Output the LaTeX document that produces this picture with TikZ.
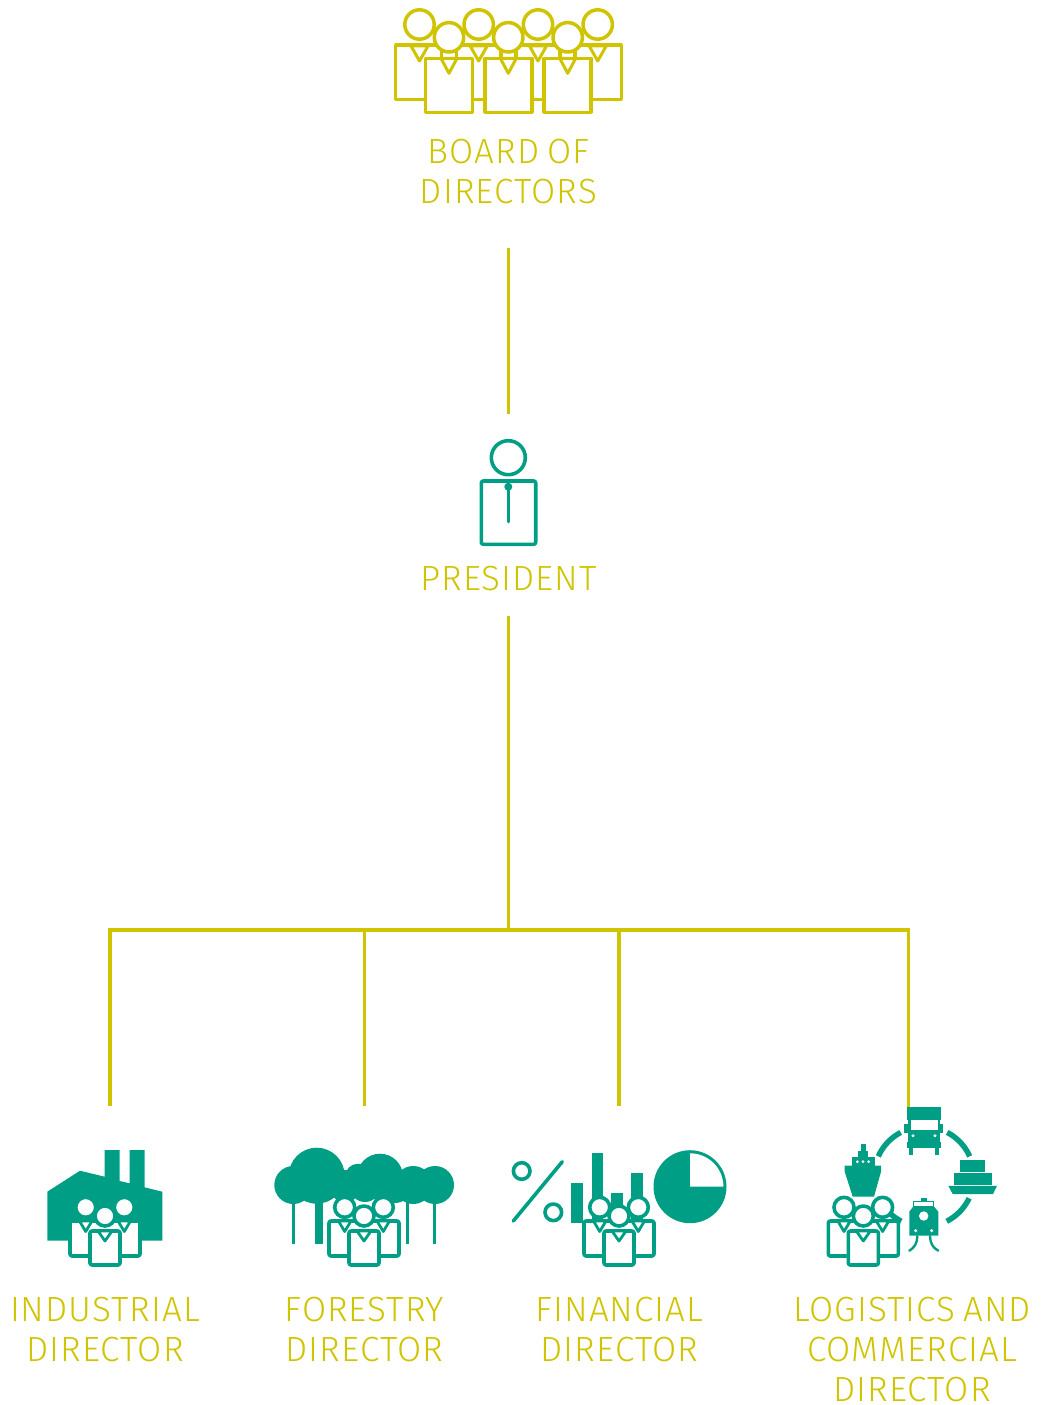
\documentclass[tikz,border=0pt]{standalone}
\usepackage{fontspec}
\setmainfont{Fira Sans}[UprightFont=* Light,LetterSpace=3,WordSpace=0.75]
\definecolor{gold}{HTML}{D0C400}
\definecolor{teal2}{HTML}{009F85}
\tikzset{
  x=1pt,y=-1pt,
  lab/.style={text=gold,font=\fontsize{35}{40}\selectfont,align=center,anchor=north,inner sep=0pt},
  wire/.style={draw=gold,line width=3.5pt},
  gline/.style={draw=gold,line width=3.5pt,line join=round},
  tline/.style={draw=teal2,line width=3.6pt,line join=round},
  people/.pic={
    \draw[tline,fill=white,rounded corners=2pt] (-35,5) rectangle (35,40);
    \draw[tline,fill=white,line width=2.8pt] (-25.5,5) -- (-13,5) -- (-19.3,15.5) -- cycle;
    \draw[tline,fill=white,line width=2.8pt] (13,5) -- (25.5,5) -- (19.3,15.5) -- cycle;
    \draw[tline,fill=white,rounded corners=2pt] (-15,15) rectangle (15,49);
    \draw[tline,fill=white,line width=2.8pt] (-7,15) -- (7,15) -- (0,25) -- cycle;
    \draw[tline,fill=white] (-19.3,-8.7) circle[radius=10pt];
    \draw[tline,fill=white] (19.3,-8.7) circle[radius=10pt];
    \draw[tline,fill=white] (0,0) circle[radius=10pt];
  },
  backp/.pic={
    \draw[gline,line width=3pt] (-8.5,21.5) -- (8.5,21.5) -- (0,36.5) -- cycle;
    \draw[gline,fill=white] (0,0) circle[radius=14.7pt];
  },
  frontp/.pic={
    \draw[gline,fill=white] (-7.5,14) rectangle (7.5,21);
    \draw[gline,fill=white] (-23.5,21) rectangle (23.5,75);
    \draw[gline,line width=3pt,fill=white] (-8,21) -- (8,21) -- (0,36) -- cycle;
    \draw[gline,fill=white] (0,0) circle[radius=14.7pt];
  }
}
\begin{document}
\begin{tikzpicture}
\useasboundingbox (0,0) rectangle (1043,1405);
% connector end points
\coordinate (c1a) at (508.3,248);
\coordinate (c1b) at (508.3,414);
\coordinate (c2a) at (508.5,616);
\coordinate (hub) at (508.5,930);
\coordinate (t1) at (110,930);
\coordinate (t2) at (364.5,930);
\coordinate (t3) at (619,930);
\coordinate (t4) at (908.5,930);
\coordinate (d1) at (110,1106);
\coordinate (d2) at (364.5,1106);
\coordinate (d3) at (619,1106);
\coordinate (d4) at (908.5,1108);
\draw[wire] (c1a) -- (c1b);
\draw[wire] (c2a) -- (hub);
\draw[wire,line join=miter] (d1) -- (t1) -- (t4) -- (d4);
\draw[wire] (t2) -- (d2);
\draw[wire] (t3) -- (d3);

% board
\draw[gline] (395.7,45) rectangle (621.3,99.3);
\foreach \x in {419.5,478.7,538,597.7} \pic at (\x,24.5) {backp};
\foreach \x in {449,508.3,567.7} \pic at (\x,37.3) {frontp};
\node[lab] (board) at (508.5,139) {BOARD OF\\DIRECTORS};

% president
\draw[tline] (508.3,457.7) circle[radius=17pt];
\draw[tline,rounded corners=2pt] (481.3,481) rectangle (535.7,544.3);
\fill[teal2] (508.3,486.7) circle[radius=4pt];
\draw[tline,line cap=round] (508.3,486.7) -- (508.3,521.7);
\node[lab] (president) at (508.5,566) {PRESIDENT};

% factory
\fill[teal2] (47.3,1191.7) -- (80,1170.7) -- (104.7,1176.7) -- (104.7,1150) -- (119.7,1150) -- (119.7,1181) -- (129.7,1183.3) -- (129.7,1150) -- (144.7,1150) -- (144.7,1187.3) -- (162.3,1191.7) -- (162.3,1240.7) -- (47.3,1240.7) -- cycle;
\pic at (105,1216) {people};
\node[lab] (industrial) at (105,1296.5) {INDUSTRIAL\\DIRECTOR};

% forest
\fill[teal2] (293.3,1185) circle[radius=19pt] (316.7,1175.7) circle[radius=28pt] (358,1176.7) circle[radius=13pt] (380,1176.7) circle[radius=23pt] (413.3,1185) circle[radius=19pt] (435,1185) circle[radius=19pt] (345,1186) circle[radius=16pt] (365,1187) circle[radius=15pt] (395,1186) circle[radius=17pt];
\fill[teal2] (305,1178) rectangle (425,1193);
\fill[teal2] (291.6,1195) rectangle (295,1244);
\fill[teal2] (315,1195) rectangle (323,1244);
\fill[teal2] (405.6,1195) rectangle (409,1244);
\fill[teal2] (432.6,1195) rectangle (436,1244);
\pic at (364,1216) {people};
\node[lab] (forestry) at (364.5,1296.5) {FORESTRY\\DIRECTOR};

% finance
\draw[tline] (521.7,1171) circle[radius=8.3pt];
\draw[tline] (553.3,1212.3) circle[radius=8.3pt];
\draw[tline,line cap=round] (562.3,1161.7) -- (513.3,1221);
\fill[teal2] (571,1183.3) rectangle (583.3,1222.7);
\fill[teal2] (591.7,1153.3) rectangle (603.3,1222.7);
\fill[teal2] (611,1193.3) rectangle (623.3,1222.7);
\fill[teal2] (631,1173.3) rectangle (643.3,1222.7);
\fill[teal2] (690,1186.7) circle[radius=36.5pt];
\fill[white] (690,1186.7) -- plot[domain=-90:0,samples=24] ({690+33.4*cos(\x)},{1186.7+33.4*sin(\x)}) -- cycle;
\pic at (619,1216) {people};
\node[lab] (financial) at (619.5,1296.5) {FINANCIAL\\DIRECTOR};

% logistics
\foreach \a/\b in {-62.4/-24,25.5/63,-117.8/-156,117/150}
  \draw[teal2,line width=5.5pt] plot[domain=\a:\b,samples=16] ({924+50*cos(\x)},{1176.7+50*sin(\x)});
% truck
\fill[teal2] (906.7,1106.7) rectangle (941,1120);
\fill[teal2] (908,1120) rectangle (939.5,1148);
\fill[teal2] (904.3,1124.3) rectangle (943.3,1133.3);
\fill[white] (911,1120) rectangle (937.5,1130);
\fill[teal2] (906.7,1141.7) rectangle (941,1148.3);
\fill[teal2] (909.3,1148) rectangle (913.3,1155);
\fill[teal2] (935,1148) rectangle (939,1155);
\fill[white] (913,1135.7) circle[radius=1.7pt] (935,1135.7) circle[radius=1.7pt];
% barge
\fill[teal2] (960,1160) rectangle (985,1172.3);
\fill[teal2] (954,1173.3) rectangle (991.7,1185);
\fill[teal2] (948.3,1185.8) -- (997,1185.8) -- (993,1194) -- (952.7,1194) -- cycle;
% ship
\fill[teal2] (860.7,1144) rectangle (865.7,1152);
\fill[teal2] (858.3,1151) rectangle (868.3,1158);
\fill[teal2] (851.7,1156.7) rectangle (875,1166);
\fill[teal2] (844.7,1165.7) -- (881,1165.7) -- (881,1171.7) -- (874,1196.7) -- (852.7,1196.7) -- (844.7,1171.7) -- cycle;
\fill[white] (857.3,1161.7) circle[radius=1.5pt] (863,1161.7) circle[radius=1.5pt] (868.7,1161.7) circle[radius=1.5pt];
% train
\fill[teal2] (921,1198.3) rectangle (926.7,1202);
\draw[teal2,line width=1pt,fill=white] (913.8,1201.7) rectangle (933.5,1206.5);
\fill[teal2] (913.3,1206.5) -- (934,1206.5) -- (938.3,1211.7) -- (938.3,1235.7) -- (909.3,1235.7) -- (909.3,1211.7) -- cycle;
\fill[white] (923.7,1216) circle[radius=4.7pt] (915.7,1230.7) circle[radius=1.7pt] (931.7,1230.7) circle[radius=1.7pt];
\draw[teal2,line width=2.4pt,line cap=round] (917.3,1236) .. controls (917.5,1243) and (914,1248) .. (909.3,1250.7);
\draw[teal2,line width=2.4pt,line cap=round] (930,1236) .. controls (930,1243) and (933,1248) .. (938.3,1250.7);
\pic at (863.3,1216) {people};
\node[lab] (logistics) at (912,1296.5) {LOGISTICS AND\\COMMERCIAL\\DIRECTOR};
\end{tikzpicture}
\end{document}
